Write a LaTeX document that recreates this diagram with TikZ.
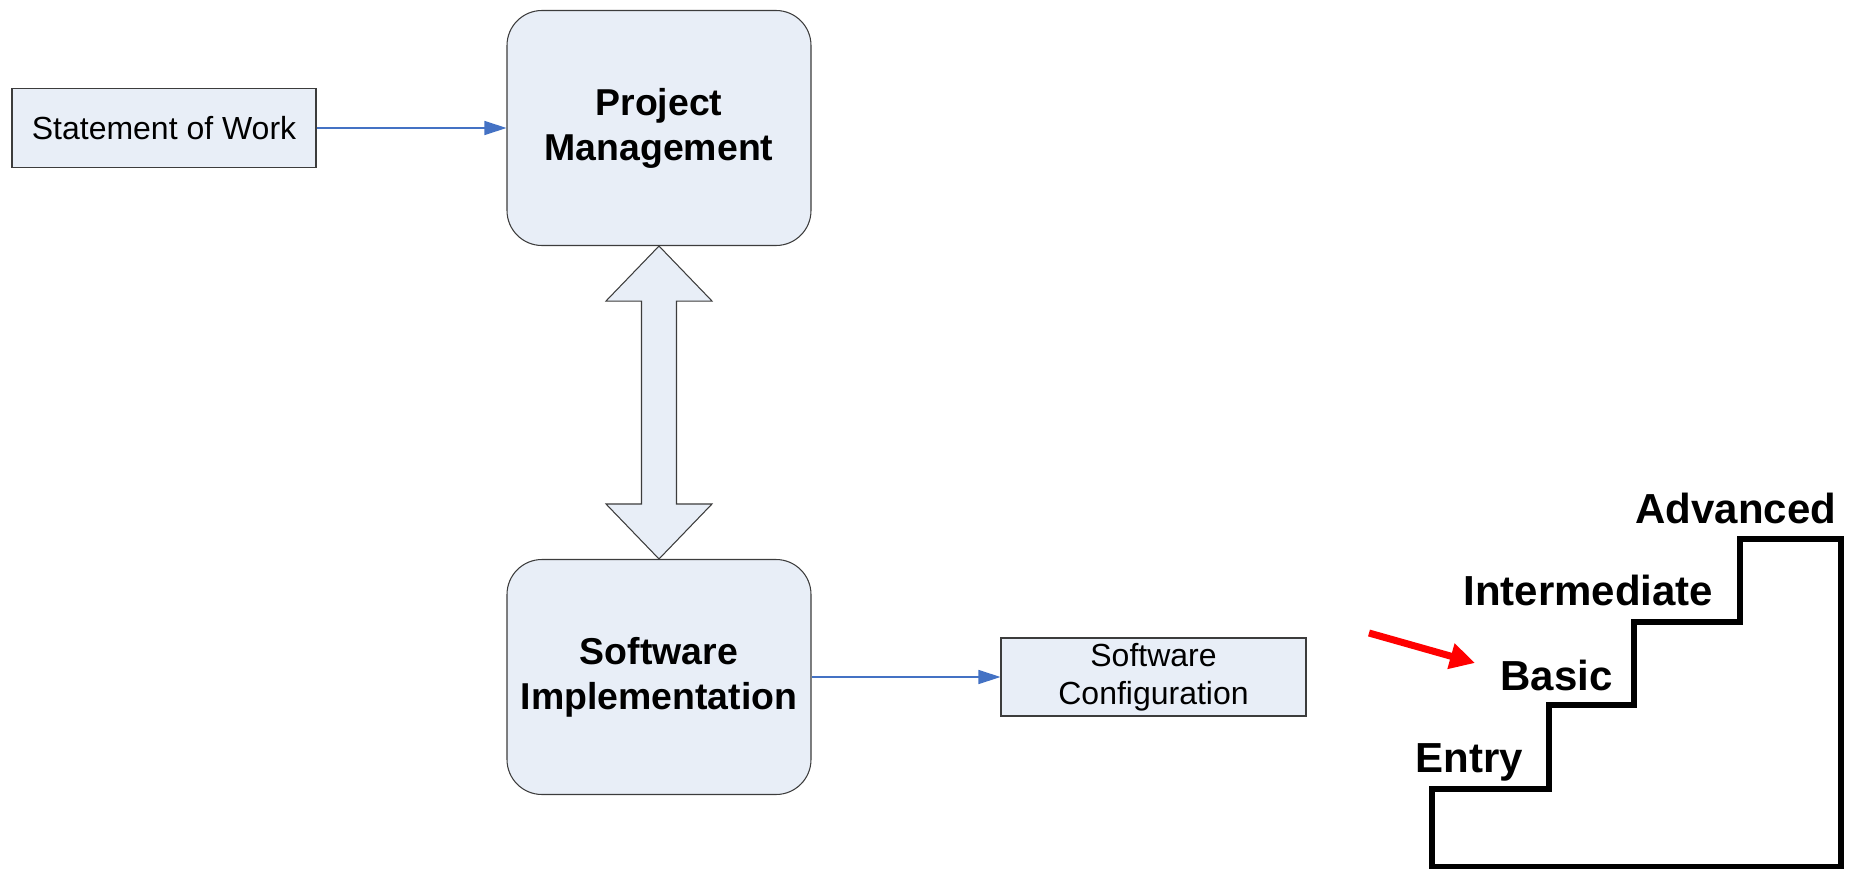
\documentclass[tikz,border=0pt]{standalone}
\usepackage{fontspec}
\setmainfont{Liberation Sans}
\usetikzlibrary{calc,arrows.meta}
\definecolor{boxfill}{RGB}{232,238,247}
\definecolor{boxline}{RGB}{60,60,60}
\definecolor{flowblue}{RGB}{68,114,196}
\tikzset{
  plainbox/.style={draw=boxline,line width=0.6pt,fill=boxfill,minimum width=6.08cm,
    align=center,inner sep=0pt,font=\fontsize{18.2}{21.8}\selectfont},
  phasebox/.style={draw=boxline,line width=0.6pt,fill=boxfill,rounded corners=0.7cm,
    minimum width=6.08cm,minimum height=4.7cm,align=center,inner sep=0pt,
    font=\fontsize{21.3}{25.6}\selectfont\bfseries},
  flow/.style={draw=flowblue,line width=0.8pt,-{Triangle[length=0.44cm,width=0.28cm]}},
  level/.style={anchor=base west,inner sep=0pt,font=\fontsize{23.9}{28}\selectfont\bfseries}
}
\begin{document}
\begin{tikzpicture}
\useasboundingbox (0,0) rectangle (37,-17.38);
\node[plainbox,minimum height=1.58cm] (SoW) at (3.28,-2.56) {Statement of Work};
\node[phasebox] (PM) at (13.18,-2.56) {Project\\Management};
\node[phasebox] (SI) at (13.18,-13.54) {Software\\Implementation};
\node[plainbox,minimum width=6.1cm,minimum height=1.56cm] (SC) at (23.07,-13.54) {Software\\Configuration};
\draw [flow] (SoW) -- (PM);
\draw [flow] (SI) -- (SC);
% two way arrow between the boxes
\draw [draw=boxline,line width=0.6pt,fill=boxfill,line join=miter]
  (PM.south) -- ++(1.06,-1.1) -- ++(-0.71,0)
  -- ($(SI.north)+(0.35,1.1)$) -- ++(0.71,0) -- (SI.north)
  -- ++(-1.06,1.1) -- ++(0.71,0)
  -- ($(PM.south)+(-0.35,-1.1)$) -- ++(-0.71,0) -- cycle;
% staircase
\draw [line width=3.4pt,line join=miter]
  (28.64,-17.34) -- (28.64,-15.78) -- (30.98,-15.78) -- (30.98,-14.1)
  -- (32.68,-14.1) -- (32.68,-12.44) -- (34.8,-12.44) -- (34.8,-10.78)
  -- (36.82,-10.78) -- (36.82,-17.34) -- cycle;
\node[level] (entry) at (28.3,-15.44) {Entry};
\node[level] (basic) at (30.0,-13.8) {Basic};
\node[level] (inter) at (29.26,-12.1) {Intermediate};
\node[level] (adv) at (32.7,-10.46) {Advanced};
\coordinate (P) at (27.38,-12.66);
\coordinate (Q) at (29.5,-13.26);
\draw [red,line width=4pt,-{Triangle[length=0.5cm,width=0.5cm]}] (P) -- (Q);
\end{tikzpicture}
\end{document}
